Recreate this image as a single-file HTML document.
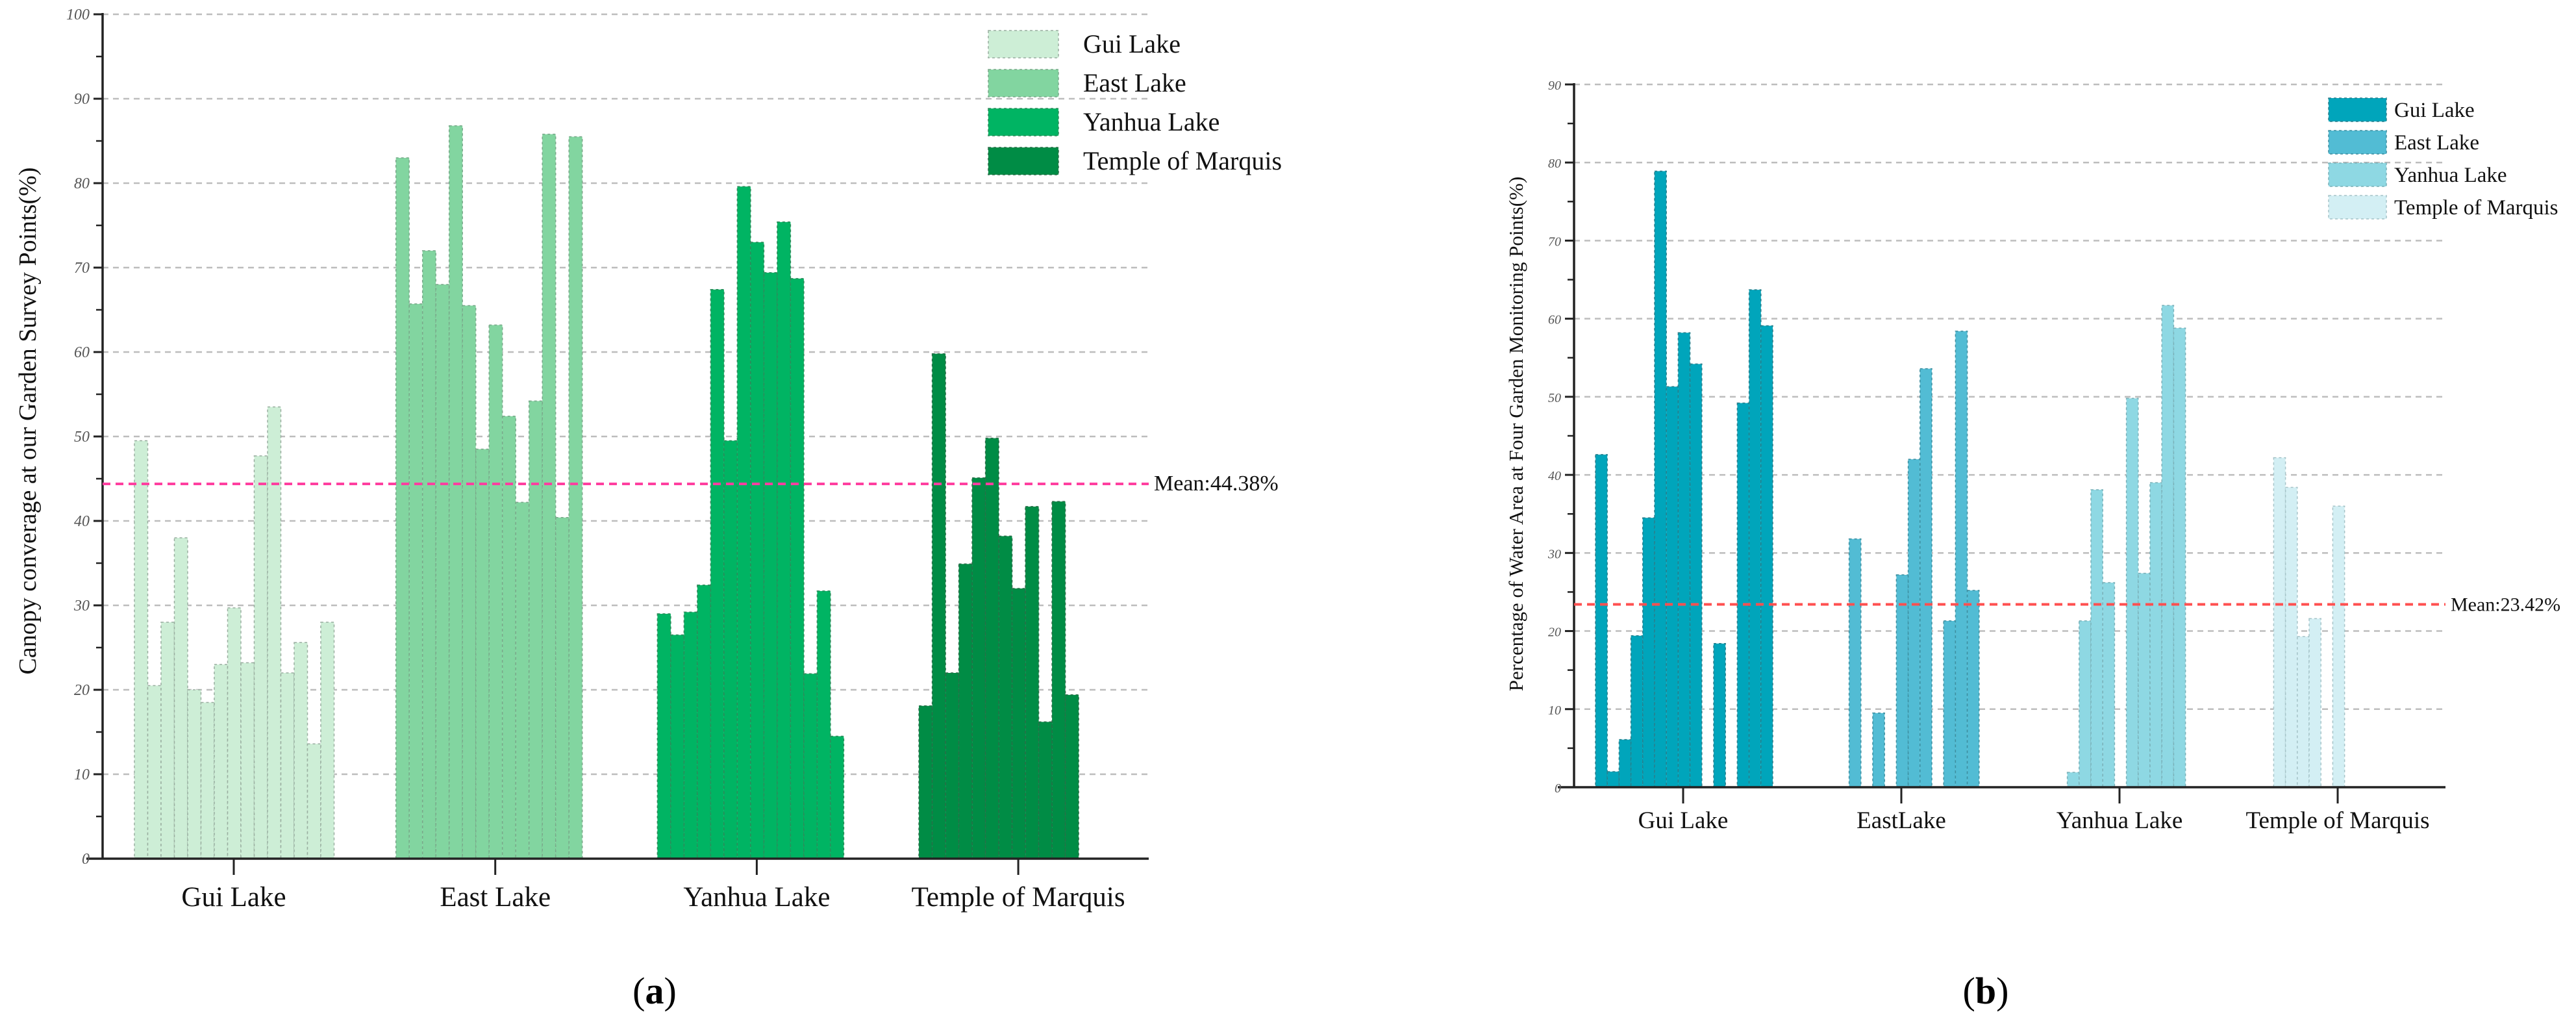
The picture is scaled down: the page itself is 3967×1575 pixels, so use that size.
<!DOCTYPE html>
<html><head><meta charset="utf-8"><style>
html,body{margin:0;padding:0;background:#fff;}
svg{display:block;font-family:"Liberation Serif",serif;}
</style></head><body>
<svg id="chart" width="3967" height="1575" viewBox="0 0 3967 1575" xmlns="http://www.w3.org/2000/svg">
<g id="pa"></g>
<g id="pb"></g>
<text x="1008" y="1545" font-size="58" text-anchor="middle">(<tspan font-weight="bold">a</tspan>)</text>
<text x="3058" y="1545" font-size="58" text-anchor="middle">(<tspan font-weight="bold">b</tspan>)</text>
</svg>
<script>
// Chart A data
const aCategories = ["Gui Lake","East Lake","Yanhua Lake","Temple of Marquis"];
const aGui = [49.5,20.5,28,38,20,18.5,23,29.7,23.2,47.7,53.5,22,25.6,13.6,28];
const aEast = [83,65.7,72,68,86.8,65.5,48.5,63.2,52.4,42.2,54.2,85.8,40.4,85.5];
const aYanhua = [29,26.5,29.2,32.4,67.4,49.5,79.6,73,69.4,75.4,68.7,21.9,31.7,14.5];
const aTemple = [18.1,59.8,22,34.9,45.1,49.8,38.2,32,41.7,16.2,42.3,19.4];
const aMean = 44.38;
const aTicks = [0,10,20,30,40,50,60,70,80,90,100];
// Chart B data
const bCategories = ["Gui Lake","EastLake","Yanhua Lake","Temple of Marquis"];
const bGui = [42.6,2,6.1,19.4,34.5,78.9,51.3,58.2,54.2,0,18.4,0,49.2,63.7,59.1];
const bEast = [0,0,0,31.8,0,9.5,0,27.2,42,53.6,0,21.3,58.4,25.2,0];
const bYanhua = [0,0,0,1.9,21.3,38.1,26.2,0,49.8,27.4,39,61.7,58.8,0,0];
const bTemple = [0,0,42.2,38.4,19.3,21.6,0,36,0,0,0,0,0,0,0];
const bMean = 23.42;
const bTicks = [0,10,20,30,40,50,60,70,80,90];

const NS="http://www.w3.org/2000/svg";
function mk(parent,tag,attrs,text){const e=document.createElementNS(NS,tag);for(const k in attrs)e.setAttribute(k,attrs[k]);if(text!==undefined)e.textContent=text;parent.appendChild(e);return e;}

function drawChart(g,cfg){
  const y=v=>cfg.y0-(v-0)/cfg.ymax*(cfg.y0-cfg.yTop);
  // grid
  cfg.ticks.forEach(t=>{
    if(t>0){const l=mk(g,'line',{x1:cfg.ax,x2:cfg.xEnd,y1:y(t),y2:y(t),stroke:'#bdbdbd','stroke-width':2.5,'stroke-dasharray':'9 7'});
      
      }
  });
  // bars
  cfg.series.forEach((vals,si)=>{
    const gx=cfg.tickX(si)-cfg.offset;
    vals.forEach((v,i)=>{
      if(v<=0)return;
      const r=mk(g,'rect',{x:gx+i*cfg.bw,y:y(v),width:cfg.bw,height:cfg.y0-y(v),fill:cfg.colors[si],stroke:cfg.strokes[si],'stroke-width':1.5,'stroke-dasharray':'4 4'});
      
      
    });
  });
  // axes
  const ya=mk(g,'line',{x1:cfg.ax,x2:cfg.ax,y1:cfg.yTop-2,y2:cfg.y0,stroke:'#222','stroke-width':3.5});
  
  
  const xa=mk(g,'line',{x1:cfg.ax-25,x2:cfg.xEnd,y1:cfg.y0,y2:cfg.y0,stroke:'#222','stroke-width':3.5});
  
  
  cfg.ticks.forEach((t,i)=>{
    mk(g,'line',{x1:cfg.ax-14,x2:cfg.ax,y1:y(t),y2:y(t),stroke:'#222','stroke-width':3});
    if(i<cfg.ticks.length-1){mk(g,'line',{x1:cfg.ax-10,x2:cfg.ax,y1:y(t+5),y2:y(t+5),stroke:'#222','stroke-width':2.5});}
    const tl=mk(g,'text',{x:cfg.ax-20,y:y(t)+8,'font-size':cfg.tickFs,'font-style':'italic','text-anchor':'end',fill:'#555'},String(t));
    
    
  });
  cfg.cats.forEach((c,i)=>{
    const tx=cfg.tickX(i);
    mk(g,'line',{x1:tx,x2:tx,y1:cfg.y0,y2:cfg.y0+25,stroke:'#222','stroke-width':3});
    const cl=mk(g,'text',{x:tx,y:cfg.catY,'font-size':cfg.catFs,'text-anchor':'middle',fill:'#111'},c);
    
    
  });
  // mean
  const ml=mk(g,'line',{x1:cfg.ax,x2:cfg.xEnd,y1:y(cfg.mean),y2:y(cfg.mean),stroke:cfg.meanColor,'stroke-width':4,'stroke-dasharray':'12 8'});
  
  
  const mt=mk(g,'text',{x:cfg.xEnd+8,y:y(cfg.mean)+10,'font-size':cfg.meanFs,fill:'#111'},'Mean:'+cfg.mean.toFixed(2)+'%');
  
  
  // y title
  const yt=mk(g,'text',{x:0,y:0,'font-size':cfg.titleFs,'text-anchor':'middle',fill:'#111',transform:`translate(${cfg.titleX},${cfg.titleY}) rotate(-90)`},cfg.title);
  
  
  // legend
  cfg.cats.forEach((c,i)=>{
    const ly=cfg.legY+i*cfg.legStep;
    const sw=mk(g,'rect',{x:cfg.legX,y:ly,width:cfg.legW,height:cfg.legH,fill:cfg.colors[i],stroke:cfg.strokes[i],'stroke-width':1.5,'stroke-dasharray':'4 4'});
    
    
    const lt=mk(g,'text',{x:cfg.legX+cfg.legW+cfg.legGap,y:ly+cfg.legH/2+cfg.legFs*0.33,'font-size':cfg.legFs,fill:'#111'},cfg.legNames[i]);
    
    
  });
}

drawChart(document.getElementById('pa'),{
  y0:1322,yTop:22,ymax:100,ax:158,xEnd:1769,ticks:aTicks,
  tickX:i=>360+i*402.7,offset:153,bw:20.5,
  series:[aGui,aEast,aYanhua,aTemple],cats:aCategories,
  colors:['#cdeed6','#82d5a0','#00b463','#008c45'],strokes:['#9aaea0','#7aa88a','#2f8a5a','#2a6e48'],
  tickFs:24,catFs:43,catY:1395,mean:aMean,meanColor:'#ff3fa0',meanFs:34,
  title:'Canopy converage at our Garden Survey Points(%)',titleFs:38,titleX:55,titleY:648,
  legX:1522,legY:47,legStep:60,legW:108,legH:42,legGap:38,legFs:40,legNames:aCategories
});
drawChart(document.getElementById('pb'),{
  y0:1212,yTop:130,ymax:90,ax:2424,xEnd:3766,ticks:bTicks,
  tickX:i=>2592+i*336,offset:135,bw:18.2,
  series:[bGui,bEast,bYanhua,bTemple],cats:bCategories,
  colors:['#00a5bb','#52bcd4','#8ed8e3','#d3eff4'],strokes:['#2a7f8c','#3e8fa0','#7ab0b8','#a6c4c8'],
  tickFs:20,catFs:37,catY:1275,mean:bMean,meanColor:'#ff5050',meanFs:30,
  title:'Percentage of Water Area at Four Garden Monitoring Points(%)',titleFs:31,titleX:2345,titleY:668,
  legX:3586,legY:151,legStep:50,legW:89,legH:36,legGap:12,legFs:33,legNames:["Gui Lake","East Lake","Yanhua Lake","Temple of Marquis"]
});
</script>
</body></html>
